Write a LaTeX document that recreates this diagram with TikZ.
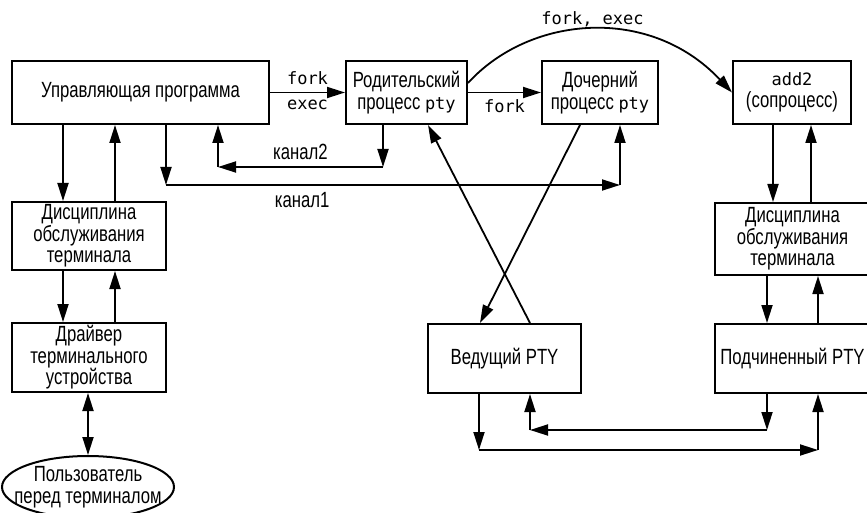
\documentclass[tikz,border=0pt]{standalone}
\usepackage{fontspec}
\setmainfont[FakeStretch=0.76]{Liberation Sans}
\newfontfamily\codefont{DejaVu Sans Mono}
\newcommand{\cd}[1]{{\codefont\fontsize{8.5}{10.8}\selectfont #1}}
\usetikzlibrary{arrows.meta, shapes.geometric}

\begin{document}
\begin{tikzpicture}[x=0.5pt, y=-0.5pt,
    box/.style={draw, line width=1pt, align=center, inner sep=1pt, font=\fontsize{11}{10.8}\selectfont},
    arr/.style={line width=0.9pt, -{Triangle[length=9pt, width=5.5pt]}},
    dbl/.style={line width=0.9pt, {Triangle[length=9pt, width=5.5pt]}-{Triangle[length=9pt, width=5.5pt]}},
    lbl/.style={font=\fontsize{11}{10.8}\selectfont},
    code/.style={font=\codefont\fontsize{8.5}{10}\selectfont}]
  \useasboundingbox (0,0) rectangle (867,513);
  \clip (0,0) rectangle (867,513);

  % processes
  \node[box, minimum width=128.5pt, minimum height=31.5pt] (ctrl) at (140.5,92.5) {Управляющая программа};
  \node[box, minimum width=60.5pt, minimum height=31.5pt] (parent) at (406.5,92.5) {Родительский\\процесс \cd{pty}};
  \node[box, minimum width=58pt, minimum height=31.5pt] (child) at (600,92.5) {Дочерний\\процесс \cd{pty}};
  \node[box, minimum width=59pt, minimum height=31.5pt] (add2) at (792,92.5) {\cd{add2}\\(сопроцесс)};

  % terminal side
  \node[box, minimum width=77pt, minimum height=34pt] (disc1) at (89,236) {Дисциплина\\обслуживания\\терминала};
  \node[box, minimum width=77pt, minimum height=34.5pt] (drv) at (89,357.5) {Драйвер\\терминального\\устройства};
  \node[ellipse, draw, line width=1pt, minimum width=86pt, minimum height=31pt] (user) at (88,487) {};
  \node[lbl, align=center] (usertxt) at (user) {Пользователь\\перед терминалом};

  % pty side
  \node[box, minimum width=76.5pt, minimum height=34.5pt] (master) at (504.5,358.5) {Ведущий PTY};
  \node[box, minimum width=77.5pt, minimum height=36pt] (disc2) at (792.5,239) {Дисциплина\\обслуживания\\терминала};
  \node[box, minimum width=77.5pt, minimum height=34.5pt] (slave) at (792.5,358.5) {Подчиненный PTY};

  % lanes and corners
  \coordinate (ldn) at (63,0);
  \coordinate (lup) at (115,0);
  \coordinate (rdn1) at (773,0);
  \coordinate (rup1) at (811,0);
  \coordinate (rdn2) at (767,0);
  \coordinate (rup2) at (818,0);
  \coordinate (xp) at (428,0);
  \coordinate (xm1) at (480,0);
  \coordinate (xm2) at (530,0);
  \coordinate (xc) at (580,0);
  \coordinate (k1a) at (166,185);
  \coordinate (k1b) at (620,185);
  \coordinate (k2a) at (383,167);
  \coordinate (k2b) at (218,167);
  \coordinate (b1a) at (479,450);
  \coordinate (b1b) at (818,450);
  \coordinate (b2a) at (767,430);
  \coordinate (b2b) at (530,430);

  % fork / exec
  \draw[arr] (ctrl) -- node[code, above] {fork} node[code, below] {exec} (parent);
  \draw[arr] (parent) -- node[code, below] {fork} (child);
  \draw[arr] ([yshift=4.75pt]parent.east) .. controls (530,15) and (650,5) .. node[code, above, inner sep=1pt] {fork, exec} (add2.west);

  % left column
  \draw[arr] (ctrl.south -| ldn) -- (disc1.north -| ldn);
  \draw[arr] (disc1.north -| lup) -- (ctrl.south -| lup);
  \draw[arr] (disc1.south -| ldn) -- (drv.north -| ldn);
  \draw[arr] (drv.north -| lup) -- (disc1.south -| lup);
  \draw[dbl] (drv.south -| user) -- (user.north);

  % канал2
  \draw[arr] (parent.south -| k2a) -- (k2a);
  \draw[arr] (k2a) -- node[lbl, above] {канал2} (k2b);
  \draw[arr] (k2b) -- (ctrl.south -| k2b);
  % канал1
  \draw[arr] (ctrl.south -| k1a) -- (k1a);
  \draw[arr] (k1a) -- node[lbl, below, pos=0.3] {канал1} (k1b);
  \draw[arr] (k1b) -- (child.south -| k1b);

  % crossing
  \draw[arr] (master.north -| xm2) -- (parent.south -| xp);
  \draw[arr] (child.south -| xc) -- (master.north -| xm1);

  % right column
  \draw[arr] (add2.south -| rdn1) -- (disc2.north -| rdn1);
  \draw[arr] (disc2.north -| rup1) -- (add2.south -| rup1);
  \draw[arr] (disc2.south -| rdn2) -- (slave.north -| rdn2);
  \draw[arr] (slave.north -| rup2) -- (disc2.south -| rup2);

  % master <-> slave
  \draw[arr] (master.south -| b1a) -- (b1a);
  \draw[arr] (b1a) -- (b1b);
  \draw[arr] (b1b) -- (slave.south -| b1b);
  \draw[arr] (slave.south -| b2a) -- (b2a);
  \draw[arr] (b2a) -- (b2b);
  \draw[arr] (b2b) -- (master.south -| b2b);
\end{tikzpicture}
\end{document}
